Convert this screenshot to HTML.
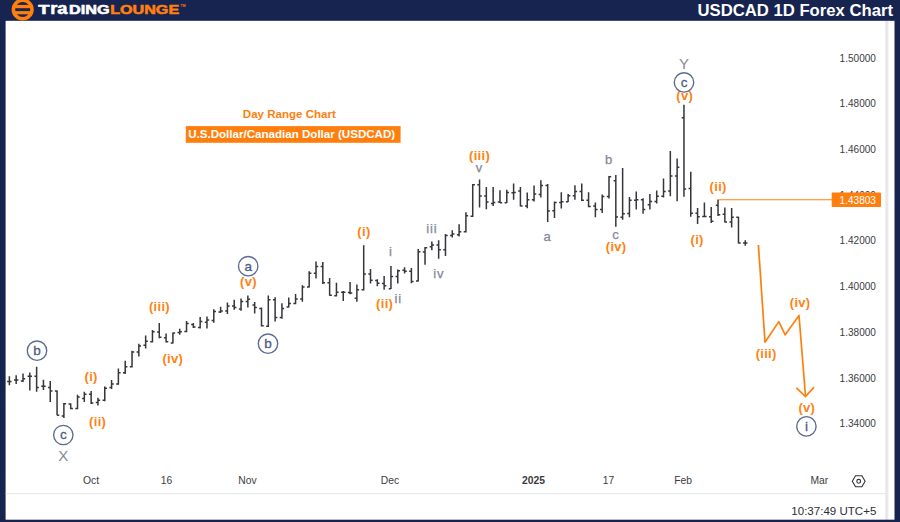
<!DOCTYPE html>
<html lang="en"><head><meta charset="utf-8"><title>USDCAD 1D Forex Chart</title>
<style>
html,body{margin:0;padding:0;background:#fff}
body{width:900px;height:522px;overflow:hidden;position:relative;font-family:"Liberation Sans",sans-serif}
svg{position:absolute;left:0;top:0;display:block}
text{font-family:"Liberation Sans",sans-serif}
.ol{fill:#ff8212;font-weight:700;font-size:13px;letter-spacing:.3px;text-anchor:middle}
.gl{fill:#82879a;stroke:#82879a;stroke-width:.25px;font-size:13px;letter-spacing:.8px;text-anchor:middle}
.gb{fill:#868a93;font-size:15px;text-anchor:middle}
.cl{fill:#4b5a87;stroke:#4b5a87;stroke-width:.3px;font-size:13.5px;text-anchor:middle}
.pl{fill:#3a3c42;font-size:10.3px}
.tl{fill:#3a3c42;font-size:10.3px;text-anchor:middle}
</style></head><body>
<svg width="900" height="522" viewBox="0 0 900 522">
<rect x="0" y="0" width="900" height="522" fill="#fff"/>
<rect x="885.2" y="21" width="3.2" height="499" fill="#e9e9e9"/>
<rect x="0" y="0" width="900" height="20.8" fill="#17244f"/>
<rect x="0" y="0" width="5.6" height="522" fill="#17244f"/>
<rect x="894.5" y="0" width="5.5" height="522" fill="#17244f"/>
<rect x="0" y="519.7" width="900" height="2.3" fill="#17244f"/>
<rect x="5.6" y="493.1" width="879.4" height="1" fill="#e4e6ea"/>
<g>
<circle cx="22.7" cy="9.5" r="9.3" fill="none" stroke="#ff7f0e" stroke-width="3.6"/>
<rect x="14.5" y="4.9" width="16.4" height="3.3" fill="#ff7f0e"/>
<rect x="14.5" y="11.1" width="16.4" height="3.2" fill="#ff7f0e"/>
<g font-weight="700" fill="#fff" stroke="#fff" stroke-width="0.55" stroke-linejoin="round">
<text x="38.2" y="13.9" font-size="12.3" textLength="11.3" lengthAdjust="spacingAndGlyphs">T</text>
<text x="50.2" y="13.9" font-size="16.2" textLength="17.3" lengthAdjust="spacingAndGlyphs">ra</text>
<text x="69" y="13.9" font-size="12.3" textLength="40.6" lengthAdjust="spacingAndGlyphs">DING</text>
</g>
<text x="110.2" y="13.9" font-size="12.3" font-weight="700" fill="#ff7f0e" stroke="#ff7f0e" stroke-width="0.55" stroke-linejoin="round" textLength="69" lengthAdjust="spacingAndGlyphs">LOUNGE</text>
<text x="180.6" y="7.2" font-size="3.4" font-weight="700" fill="#ff7f0e">TM</text>
</g>
<text x="697.5" y="15.7" font-size="16" font-weight="700" fill="#fff" textLength="195.5" lengthAdjust="spacingAndGlyphs">USDCAD 1D Forex Chart</text>
<text x="289.3" y="118.4" font-size="11.6" font-weight="700" fill="#ff7f0e" text-anchor="middle" textLength="93" lengthAdjust="spacingAndGlyphs">Day Range Chart</text>
<rect x="185.8" y="126.1" width="214.8" height="16.7" fill="#ff7f0e"/>
<text x="188.2" y="138.1" font-size="11.5" font-weight="700" fill="#fff" textLength="207" lengthAdjust="spacingAndGlyphs">U.S.Dollar/Canadian Dollar (USDCAD)</text>
<text class="pl" x="839.6" y="61.5" textLength="36.3" lengthAdjust="spacingAndGlyphs">1.50000</text>
<text class="pl" x="839.6" y="107.3" textLength="36.3" lengthAdjust="spacingAndGlyphs">1.48000</text>
<text class="pl" x="839.6" y="153.0" textLength="36.3" lengthAdjust="spacingAndGlyphs">1.46000</text>
<text class="pl" x="839.6" y="198.7" textLength="36.3" lengthAdjust="spacingAndGlyphs">1.44000</text>
<text class="pl" x="839.6" y="244.4" textLength="36.3" lengthAdjust="spacingAndGlyphs">1.42000</text>
<text class="pl" x="839.6" y="290.1" textLength="36.3" lengthAdjust="spacingAndGlyphs">1.40000</text>
<text class="pl" x="839.6" y="335.7" textLength="36.3" lengthAdjust="spacingAndGlyphs">1.38000</text>
<text class="pl" x="839.6" y="381.5" textLength="36.3" lengthAdjust="spacingAndGlyphs">1.36000</text>
<text class="pl" x="839.6" y="427.1" textLength="36.3" lengthAdjust="spacingAndGlyphs">1.34000</text>
<path d="M717 199.7H832" stroke="#ff7f0e" stroke-width="1.1" fill="none"/>
<rect x="831.7" y="192.5" width="49.3" height="14.4" rx="1" fill="#ff7f0e"/>
<text x="839.6" y="203.6" font-size="10.3" fill="#fff" textLength="36.3" lengthAdjust="spacingAndGlyphs">1.43803</text>
<text class="tl" x="91" y="484.3">Oct</text>
<text class="tl" x="166.5" y="484.3">16</text>
<text class="tl" x="247.5" y="484.3">Nov</text>
<text class="tl" x="390" y="484.3">Dec</text>
<text class="tl" x="533.5" y="484.3" font-weight="700">2025</text>
<text class="tl" x="608.5" y="484.3">17</text>
<text class="tl" x="683" y="484.3">Feb</text>
<text class="tl" x="819.3" y="484.3">Mar</text>
<text x="791.3" y="514.7" font-size="11.2" fill="#2c2e33" textLength="85" lengthAdjust="spacingAndGlyphs">10:37:49 UTC+5</text>
<path d="M852.3 481.3L855.5 475.8H861.9L865.1 481.3L861.9 486.8H855.5Z" fill="none" stroke="#2e3036" stroke-width="1.1"/><circle cx="858.7" cy="481.3" r="1.9" fill="none" stroke="#2e3036" stroke-width="1.1"/>
<path d="M9.37 376.2V385.2M7.17 381.4h2.2M9.37 381.4h2.2M16.18 375.3V384.0M13.98 380.0h2.2M16.18 380.0h2.2M23.0 373.6V381.9M20.80 380.9h2.2M23.0 378.8h2.2M29.81 372.4V390.5M27.61 376.2h2.2M29.81 376.2h2.2M36.63 366.7V391.7M34.43 376.2h2.2M36.63 387.4h2.2M43.44 379.7V390.0M41.24 386.2h2.2M43.44 386.2h2.2M50.25 381.0V402.1M48.05 387.4h2.2M50.25 390.9h2.2M57.07 390.5V415.3M54.87 390.9h2.2M57.07 415.3h2.2M63.88 402.9V417.9M61.68 415.9h2.2M63.88 403.8h2.2M70.7 403.3V409.3M68.50 404.1h2.2M70.7 408.6h2.2M77.51 394.8V409.3M75.31 408.6h2.2M77.51 396.9h2.2M84.32 391.7V402.1M82.12 398.6h2.2M84.32 394.3h2.2M91.14 390.9V404.1M88.94 394.3h2.2M91.14 402.9h2.2M97.95 397.8V405.5M95.75 402.4h2.2M97.95 400.3h2.2M104.77 386.6V401.2M102.57 400.3h2.2M104.77 388.3h2.2M111.58 380.0V389.1M109.38 387.4h2.2M111.58 384.0h2.2M118.39 368.4V384.8M116.19 384.0h2.2M118.39 372.8h2.2M125.21 360.7V374.1M123.01 372.8h2.2M125.21 366.7h2.2M132.02 350.7V367.6M129.82 366.7h2.2M132.02 352.1h2.2M138.84 343.8V356.4M136.64 352.1h2.2M138.84 346.0h2.2M145.65 335.5V348.6M143.45 345.2h2.2M145.65 341.2h2.2M152.46 330.0V342.4M150.26 341.7h2.2M152.46 331.7h2.2M159.28 323.1V338.3M157.08 332.1h2.2M159.28 337.2h2.2M166.09 333.4V342.4M163.89 337.8h2.2M166.09 341.7h2.2M172.91 332.6V343.4M170.71 342.9h2.2M172.91 333.1h2.2M179.72 328.8V334.8M177.52 332.6h2.2M179.72 331.7h2.2M186.53 321.0V332.2M184.33 331.4h2.2M186.53 323.4h2.2M193.35 323.1V327.9M191.15 324.5h2.2M193.35 326.9h2.2M200.16 317.1V328.6M197.96 327.4h2.2M200.16 321.4h2.2M206.98 316.6V328.6M204.78 322.2h2.2M206.98 320.0h2.2M213.79 309.3V322.8M211.59 320.5h2.2M213.79 311.4h2.2M220.6 306.7V313.1M218.40 311.9h2.2M220.6 311.0h2.2M227.42 302.4V314.1M225.22 311.0h2.2M227.42 305.9h2.2M234.23 299.8V309.7M232.03 305.9h2.2M234.23 307.6h2.2M241.05 298.6V310.7M238.85 309.0h2.2M241.05 301.6h2.2M247.86 295.5V307.6M245.66 301.6h2.2M247.86 299.3h2.2M254.67 302.1V313.6M252.47 305.0h2.2M254.67 307.6h2.2M261.49 307.6V326.6M259.29 308.4h2.2M261.49 325.7h2.2M268.3 295.5V326.9M266.10 326.2h2.2M268.3 299.8h2.2M275.12 297.2V321.4M272.92 299.8h2.2M275.12 317.6h2.2M281.93 303.3V318.8M279.73 317.6h2.2M281.93 308.4h2.2M288.74 297.4V307.4M286.54 306.9h2.2M288.74 303.4h2.2M295.56 294.0V304.3M293.36 303.4h2.2M295.56 299.1h2.2M302.37 285.3V301.7M300.17 299.1h2.2M302.37 287.1h2.2M309.19 271.2V287.4M306.99 287.1h2.2M309.19 273.3h2.2M316.0 261.6V278.4M313.80 273.3h2.2M316.0 266.4h2.2M322.81 262.1V284.0M320.61 266.4h2.2M322.81 282.8h2.2M329.63 278.1V295.7M327.43 282.8h2.2M329.63 295.3h2.2M336.44 282.8V296.6M334.24 295.7h2.2M336.44 292.2h2.2M343.26 290.9V300.9M341.06 292.2h2.2M343.26 292.2h2.2M350.07 281.9V294.3M347.87 292.6h2.2M350.07 293.1h2.2M356.88 284.5V301.7M354.68 298.3h2.2M356.88 289.7h2.2M363.7 245.3V290.5M361.50 289.7h2.2M363.7 274.1h2.2M370.51 269.0V283.6M368.31 274.1h2.2M370.51 280.2h2.2M377.33 279.3V286.2M375.13 280.5h2.2M377.33 283.3h2.2M384.14 275.9V289.7M381.94 283.6h2.2M384.14 285.7h2.2M390.95 266.0V289.1M388.75 288.8h2.2M390.95 276.4h2.2M397.77 269.5V283.6M395.57 276.4h2.2M397.77 270.7h2.2M404.58 267.2V273.6M402.38 270.2h2.2M404.58 271.2h2.2M411.4 268.1V283.3M409.20 271.2h2.2M411.4 281.6h2.2M418.21 249.1V281.6M416.01 281.0h2.2M418.21 251.7h2.2M425.02 246.9V264.7M422.82 252.0h2.2M425.02 247.8h2.2M431.84 241.6V250.2M429.64 246.7h2.2M431.84 245.0h2.2M438.65 240.3V258.8M436.45 245.0h2.2M438.65 249.7h2.2M445.47 234.1V255.9M443.27 249.7h2.2M445.47 235.5h2.2M452.28 230.3V237.6M450.08 235.5h2.2M452.28 234.1h2.2M459.09 224.3V236.4M456.89 234.7h2.2M459.09 231.7h2.2M465.91 212.2V232.4M463.71 231.7h2.2M465.91 215.7h2.2M472.72 184.1V216.9M470.52 216.2h2.2M472.72 184.7h2.2M479.54 179.5V207.6M477.34 184.7h2.2M479.54 195.9h2.2M486.35 186.9V209.3M484.15 195.9h2.2M486.35 201.9h2.2M493.16 186.9V205.9M490.96 203.6h2.2M493.16 202.4h2.2M499.98 190.3V203.1M497.78 201.9h2.2M499.98 202.8h2.2M506.79 189.8V203.1M504.59 202.8h2.2M506.79 192.4h2.2M513.61 183.4V199.7M511.41 192.8h2.2M513.61 192.4h2.2M520.42 186.9V206.6M518.22 191.0h2.2M520.42 205.9h2.2M527.23 192.4V208.3M525.03 205.9h2.2M527.23 199.7h2.2M534.05 185.5V201.4M531.85 199.7h2.2M534.05 194.1h2.2M540.86 180.3V197.6M538.66 194.5h2.2M540.86 185.5h2.2M547.68 184.1V222.1M545.48 185.5h2.2M547.68 211.0h2.2M554.49 201.4V218.1M552.29 210.7h2.2M554.49 202.6h2.2M561.3 192.2V208.6M559.10 202.6h2.2M561.3 201.7h2.2M568.12 194.0V202.1M565.92 201.7h2.2M568.12 195.7h2.2M574.93 185.3V199.7M572.73 195.7h2.2M574.93 191.4h2.2M581.75 183.6V200.9M579.55 191.4h2.2M581.75 200.3h2.2M588.56 192.2V207.2M586.36 200.3h2.2M588.56 206.6h2.2M595.37 202.6V217.2M593.17 206.0h2.2M595.37 209.5h2.2M602.19 194.5V212.9M599.99 209.5h2.2M602.19 196.6h2.2M609.0 175.9V198.6M606.80 196.6h2.2M609.0 176.7h2.2M615.82 175.0V226.7M613.62 180.7h2.2M615.82 216.9h2.2M622.63 168.1V219.8M620.43 217.2h2.2M622.63 213.8h2.2M629.44 196.9V217.2M627.24 213.4h2.2M629.44 200.3h2.2M636.26 191.4V209.5M634.06 200.3h2.2M636.26 199.7h2.2M643.07 198.3V213.8M640.87 199.7h2.2M643.07 209.5h2.2M649.89 194.0V209.5M647.69 204.8h2.2M649.89 201.4h2.2M656.7 190.5V203.4M654.50 201.4h2.2M656.7 196.2h2.2M663.51 178.4V197.4M661.31 196.2h2.2M663.51 191.4h2.2M670.33 151.0V196.2M668.13 191.0h2.2M670.33 175.9h2.2M677.14 158.6V201.2M674.94 175.9h2.2M677.14 167.2h2.2M683.96 104.7V196.8M681.76 117.8h2.2M683.96 189.0h2.2M690.77 171.7V216.7M688.57 188.4h2.2M690.77 213.3h2.2M697.58 208.1V224.1M695.38 213.3h2.2M697.58 216.7h2.2M704.4 202.6V217.2M702.20 216.4h2.2M704.4 216.4h2.2M711.21 206.9V222.9M709.01 216.7h2.2M711.21 221.2h2.2M718.03 200.0V216.0M715.83 205.2h2.2M718.03 214.7h2.2M724.84 207.4V222.4M722.64 214.3h2.2M724.84 221.9h2.2M731.65 208.1V227.6M729.45 221.9h2.2M731.65 217.2h2.2M738.47 216.7V243.6M736.27 217.2h2.2M738.47 243.1h2.2M745.28 240.2V245.7M743.08 243.1h2.2M745.28 243.1h2.2" stroke="#35353a" stroke-width="1.5" fill="none"/>
<path d="M758.4 245L765 342.2L778.8 321.6L785.2 334.8L799 315.5L805.5 396" stroke="#ff7f0e" stroke-width="1.7" fill="none" stroke-linejoin="round"/>
<path d="M796.4 387.9L805.5 396.6L814.1 387.1" stroke="#ff7f0e" stroke-width="1.7" fill="none"/>
<text class="ol" x="91.15" y="380.7">(i)</text>
<text class="ol" x="97.65" y="425.7">(ii)</text>
<text class="ol" x="159.45000000000002" y="310.7">(iii)</text>
<text class="ol" x="172.85" y="363.2">(iv)</text>
<text class="ol" x="248.45000000000002" y="286.3">(v)</text>
<text class="ol" x="363.95" y="235.9">(i)</text>
<text class="ol" x="384.65" y="307.7">(ii)</text>
<text class="ol" x="479.54999999999995" y="159.9">(iii)</text>
<text class="ol" x="616.15" y="251.3">(iv)</text>
<text class="ol" x="684.65" y="100.3">(v)</text>
<text class="ol" x="697.15" y="244.2">(i)</text>
<text class="ol" x="718.15" y="190.7">(ii)</text>
<text class="ol" x="766.15" y="357.7">(iii)</text>
<text class="ol" x="800.15" y="307.1">(iv)</text>
<text class="ol" x="806.85" y="411.7">(v)</text>
<text class="gl" x="390.9" y="256.3">i</text>
<text class="gl" x="398.2" y="302.9">ii</text>
<text class="gl" x="431.8" y="233.1">iii</text>
<text class="gl" x="438.7" y="277.5">iv</text>
<text class="gl" x="479.5" y="171.8">v</text>
<text class="gl" x="547.5" y="240.8">a</text>
<text class="gl" x="609.0" y="163.8">b</text>
<text class="gl" x="616.0" y="238.8">c</text>
<text class="gb" x="63.3" y="461.4">X</text>
<text class="gb" x="684" y="69.4">Y</text>
<circle cx="37" cy="350.7" r="9.7" fill="#fff" stroke="#5b6a94" stroke-width="1.35"/><text class="cl" x="37" y="355.0">b</text>
<circle cx="63.3" cy="435" r="9.7" fill="#fff" stroke="#5b6a94" stroke-width="1.35"/><text class="cl" x="63.3" y="439.3">c</text>
<circle cx="248.2" cy="266.2" r="9.7" fill="#fff" stroke="#5b6a94" stroke-width="1.35"/><text class="cl" x="248.2" y="270.5">a</text>
<circle cx="268" cy="343.7" r="9.7" fill="#fff" stroke="#5b6a94" stroke-width="1.35"/><text class="cl" x="268" y="348.0">b</text>
<circle cx="684" cy="82.4" r="9.7" fill="#fff" stroke="#5b6a94" stroke-width="1.35"/><text class="cl" x="684" y="86.7">c</text>
<circle cx="806.4" cy="426.4" r="9.7" fill="#fff" stroke="#5b6a94" stroke-width="1.35"/><text class="cl" x="806.4" y="430.7">i</text>
</svg>
</body></html>
